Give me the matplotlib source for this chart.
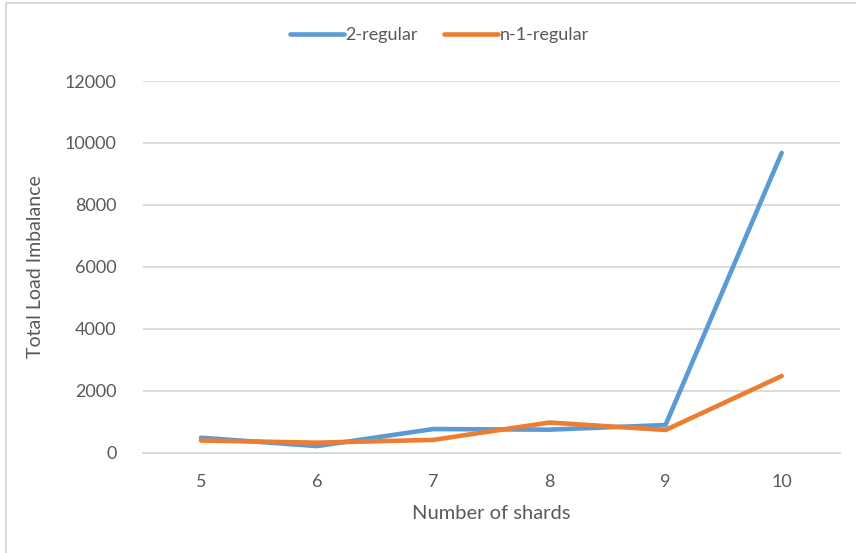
import matplotlib.pyplot as plt
from matplotlib.lines import Line2D

plt.rcParams['font.family'] = ['Lato', 'DejaVu Sans']

# Total load imbalance per number of shards
shards = [5, 6, 7, 8, 9, 10]
two_regular = [490, 220, 770, 750, 900, 9680]
n1_regular = [400, 330, 420, 980, 740, 2480]

blue = '#5B9BD5'
orange = '#ED7D31'
text_col = '#595959'

fig = plt.figure(figsize=(8.56, 5.53), dpi=100)
ax = fig.add_axes([0.167, 0.181, 0.814, 0.6725])

ax.plot(shards, two_regular, color=blue, lw=3.3, label='2-regular', solid_capstyle='round')
ax.plot(shards, n1_regular, color=orange, lw=3.3, label='n-1-regular', solid_capstyle='round')

ax.set_xlim(4.5, 10.5)
ax.set_ylim(0, 12000)
ax.set_yticks(range(0, 12001, 2000))
ax.set_xticks(shards)
ax.grid(axis='y', color='#d9d9d9', lw=1.3)
ax.set_axisbelow(True)
for s in ['top', 'right', 'left']:
    ax.spines[s].set_visible(False)
ax.spines['bottom'].set_color('#d9d9d9')
ax.spines['bottom'].set_linewidth(1.3)
ax.tick_params(length=0, labelsize=13, colors=text_col)
ax.tick_params(axis='x', pad=15)
ax.tick_params(axis='y', pad=19)

ax.set_xlabel('Number of shards', fontsize=14.5, color=text_col, labelpad=11)
ax.set_ylabel('Total Load Imbalance', fontsize=14, color=text_col, labelpad=15)

ax.legend(loc='center', bbox_to_anchor=(0.513, 0.937), bbox_transform=fig.transFigure,
          ncol=2, frameon=False, fontsize=13, handlelength=3.0, handletextpad=0.05,
          columnspacing=1.5, labelcolor=text_col)

# outer chart frame
fig.add_artist(Line2D([0.0075, 0.0075], [0, 0.995], color='#d9d9d9', lw=1.5))
fig.add_artist(Line2D([0.0075, 1], [0.995, 0.995], color='#d9d9d9', lw=1.5))

fig.savefig('out.png', dpi=100)
